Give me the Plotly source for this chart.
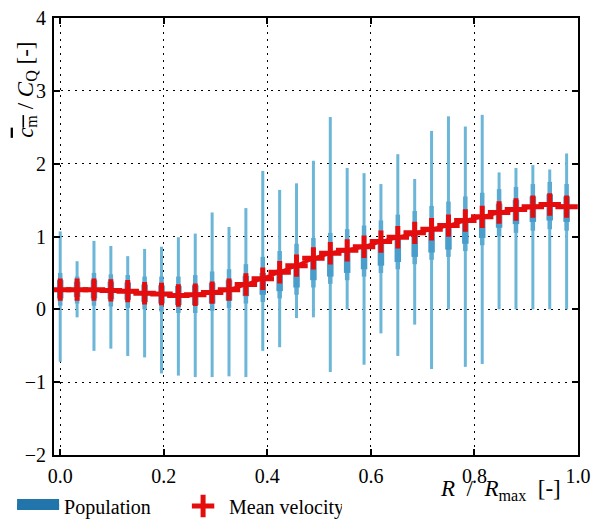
import plotly.graph_objects as go

# ---- data ----
r_pos = [0.0, 0.0326, 0.0652, 0.0978, 0.1304, 0.163, 0.1956, 0.2282, 0.2608, 0.2934,
         0.326, 0.3586, 0.3912, 0.4238, 0.4564, 0.489, 0.5216, 0.5542, 0.5868, 0.6194,
         0.652, 0.6846, 0.7172, 0.7498, 0.7824, 0.815, 0.8476, 0.8802, 0.9128, 0.9454, 0.978]

mean_vel = [0.27, 0.27, 0.27, 0.26, 0.25, 0.22, 0.21, 0.19, 0.20, 0.23,
            0.27, 0.34, 0.42, 0.51, 0.60, 0.70, 0.77, 0.81, 0.86, 0.93,
            0.99, 1.05, 1.10, 1.15, 1.22, 1.27, 1.33, 1.37, 1.41, 1.44, 1.41]

pop_max = [1.07, 0.66, 0.94, 0.87, 0.73, 0.83, 0.86, 0.99, 1.04, 1.33,
           1.13, 1.39, 1.90, 1.64, 1.73, 2.04, 2.64, 1.94, 1.87, 1.72,
           2.13, 1.79, 2.45, 2.65, 2.51, 2.67, 1.88, 1.94, 1.98, 1.92, 2.14]

pop_min = [-0.72, -0.11, -0.57, -0.54, -0.64, -0.66, -0.88, -0.91, -0.93, -0.93,
           -0.92, -0.93, -0.57, -0.52, -0.12, -0.11, -0.86, 0.0, -0.76, -0.33,
           -0.64, -0.21, -0.82, 0.0, -0.79, -0.75, 0.0, 0.0, 0.0, 0.0, 0.0]

# outer body of each violin (where the density is moderate)
body_lo = [0.05, 0.08, 0.05, 0.04, 0.02, 0.00, -0.03, -0.05, -0.05, -0.02,
           0.02, 0.08, 0.10, 0.15, 0.20, 0.30, 0.35, 0.40, 0.45, 0.50,
           0.55, 0.62, 0.68, 0.72, 0.80, 0.88, 1.00, 1.05, 1.08, 1.10, 1.08]
body_hi = [0.50, 0.45, 0.50, 0.48, 0.47, 0.45, 0.45, 0.45, 0.47, 0.52,
           0.55, 0.62, 0.72, 0.80, 0.90, 0.98, 1.05, 1.10, 1.15, 1.22,
           1.30, 1.35, 1.42, 1.48, 1.55, 1.60, 1.65, 1.68, 1.72, 1.75, 1.72]

# core of each violin (highest density)
core_lo = [0.15, 0.17, 0.15, 0.14, 0.13, 0.10, 0.08, 0.06, 0.06, 0.08,
           0.12, 0.18, 0.20, 0.25, 0.30, 0.40, 0.45, 0.50, 0.55, 0.60,
           0.65, 0.72, 0.78, 0.82, 0.90, 0.98, 1.12, 1.17, 1.20, 1.22, 1.20]
core_hi = [0.40, 0.38, 0.40, 0.38, 0.37, 0.34, 0.33, 0.32, 0.33, 0.36,
           0.40, 0.46, 0.50, 0.55, 0.60, 0.68, 0.75, 0.80, 0.85, 0.92,
           1.00, 1.05, 1.10, 1.15, 1.22, 1.28, 1.45, 1.50, 1.55, 1.58, 1.55]

x_ticks = [0.0, 0.2, 0.4, 0.6, 0.8, 1.0]
x_tick_text = ["0.0", "0.2", "0.4", "0.6", "0.8", "1.0"]
y_ticks = [-2, -1, 0, 1, 2, 3, 4]
y_tick_text = ["\u22122", "\u22121", "0", "1", "2", "3", "4"]

SERIF = "Liberation Serif"
RED = "rgb(228,12,12)"
SP = "\u2002"


def segments(xs, lo, hi):
    sx, sy = [], []
    for xi, a, b in zip(xs, lo, hi):
        sx += [xi, xi, None]
        sy += [a, b, None]
    return sx, sy


fig = go.Figure()

for lo, hi, w, col in [
    (pop_min, pop_max, 3, "rgb(108,182,216)"),
    (body_lo, body_hi, 4.5, "rgb(90,170,210)"),
    (core_lo, core_hi, 6.5, "rgb(72,157,203)"),
]:
    sx, sy = segments(r_pos, lo, hi)
    fig.add_trace(go.Scatter(x=sx, y=sy, mode="lines",
                             line=dict(color=col, width=w),
                             showlegend=False, hoverinfo="skip"))

# legend entry for the population (violins)
fig.add_trace(go.Scatter(x=[None], y=[None], mode="lines", fill="toself",
                         fillcolor="rgb(34,117,170)",
                         line=dict(color="rgb(34,117,170)", width=10),
                         name="Population"))

# mean velocity: connecting line + crosses
fig.add_trace(go.Scatter(x=r_pos, y=mean_vel, mode="lines",
                         line=dict(color=RED, width=3.5),
                         showlegend=False, hoverinfo="skip"))
fig.add_trace(go.Scatter(x=r_pos, y=mean_vel, mode="markers",
                         marker=dict(symbol="cross-thin", size=16,
                                     line=dict(color=RED, width=5)),
                         name="Mean velocity"))

axis_common = dict(
    showgrid=True, gridcolor="black", gridwidth=1.3, griddash="2px,5px",
    showline=True, linecolor="black", linewidth=2, mirror="ticks",
    ticks="inside", ticklen=6, tickwidth=1.5, tickcolor="black",
    zeroline=False, automargin=False,
    tickfont=dict(family=SERIF, size=20, color="black"),
)

fig.update_xaxes(range=[-0.012, 1.0], tickvals=x_ticks, ticktext=x_tick_text,
                 ticklabelstandoff=2, **axis_common)
fig.update_yaxes(range=[-2, 4], tickvals=y_ticks, ticktext=y_tick_text,
                 ticklabelstandoff=2, **axis_common)

fig.add_annotation(
    x=-0.052, y=0.835, xref="paper", yref="paper", showarrow=False,
    xanchor="center", yanchor="middle", textangle=-90,
    text='<span style="text-decoration:overline"><i>c</i><sub>m</sub></span>'
         + ' / <i>C</i><sub>Q</sub> [-]',
    font=dict(family=SERIF, size=23, color="black"),
)
fig.add_annotation(
    x=0.853, y=-0.08, xref="paper", yref="paper", showarrow=False,
    xanchor="center", yanchor="middle",
    text="<i>R</i>" + SP + "/" + SP + "<i>R</i><sub>max</sub>" + SP + "[-]",
    font=dict(family=SERIF, size=23, color="black"),
)

fig.update_layout(
    width=602, height=522,
    margin=dict(l=54, r=24, t=18, b=67, autoexpand=False),
    paper_bgcolor="white", plot_bgcolor="white",
    font=dict(family=SERIF, size=20, color="black"),
    showlegend=True,
    legend=dict(orientation="h", x=-0.08, y=-0.072, xanchor="left", yanchor="top",
                itemwidth=42, entrywidth=108, entrywidthmode="pixels",
                font=dict(family=SERIF, size=20, color="black"),
                bgcolor="rgba(0,0,0,0)", tracegroupgap=0),
)

fig.write_html("out.html",
               config={"displayModeBar": False},
               post_script="document.body.style.margin='0';"
                           "document.body.style.overflow='hidden';")
